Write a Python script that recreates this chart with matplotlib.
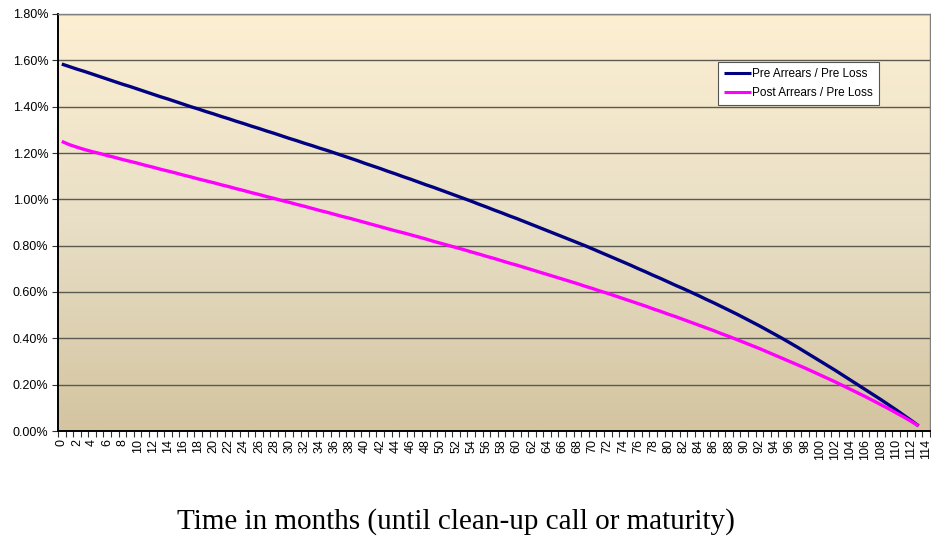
import numpy as np
import matplotlib
matplotlib.use("Agg")
import matplotlib.pyplot as plt
from matplotlib.ticker import FixedLocator, FuncFormatter
from matplotlib.colors import LinearSegmentedColormap

months = list(range(0, 114))

pre_arrears = [
    1.584, 1.573, 1.562, 1.552, 1.541, 1.530, 1.519, 1.508, 1.497, 1.487,
    1.476, 1.465, 1.454, 1.443, 1.433, 1.422, 1.411, 1.400, 1.390, 1.379,
    1.369, 1.358, 1.348, 1.337, 1.327, 1.316, 1.306, 1.295, 1.285, 1.274,
    1.263, 1.253, 1.242, 1.232, 1.221, 1.211, 1.200, 1.189, 1.178, 1.167,
    1.155, 1.144, 1.133, 1.121, 1.110, 1.098, 1.087, 1.075, 1.063, 1.052,
    1.040, 1.028, 1.016, 1.004, 0.992, 0.979, 0.967, 0.954, 0.942, 0.929,
    0.917, 0.904, 0.891, 0.878, 0.865, 0.852, 0.839, 0.826, 0.813, 0.800,
    0.786, 0.772, 0.758, 0.744, 0.730, 0.716, 0.701, 0.687, 0.672, 0.658,
    0.643, 0.628, 0.614, 0.599, 0.584, 0.568, 0.553, 0.537, 0.521, 0.505,
    0.488, 0.471, 0.454, 0.436, 0.418, 0.400, 0.381, 0.362, 0.342, 0.322,
    0.302, 0.282, 0.262, 0.241, 0.220, 0.199, 0.178, 0.157, 0.136, 0.114,
    0.092, 0.069, 0.046, 0.022,
]

post_arrears = [
    1.250, 1.236, 1.225, 1.215, 1.206, 1.198, 1.189, 1.181, 1.172, 1.164,
    1.156, 1.147, 1.139, 1.130, 1.122, 1.114, 1.105, 1.097, 1.088, 1.080,
    1.072, 1.063, 1.055, 1.046, 1.038, 1.029, 1.021, 1.012, 1.004, 0.995,
    0.987, 0.978, 0.970, 0.961, 0.952, 0.944, 0.935, 0.926, 0.918, 0.909,
    0.900, 0.891, 0.882, 0.873, 0.864, 0.856, 0.847, 0.838, 0.829, 0.819,
    0.810, 0.801, 0.792, 0.783, 0.773, 0.764, 0.754, 0.745, 0.735, 0.725,
    0.716, 0.706, 0.696, 0.686, 0.676, 0.666, 0.656, 0.646, 0.636, 0.625,
    0.615, 0.604, 0.594, 0.583, 0.572, 0.561, 0.550, 0.539, 0.527, 0.516,
    0.504, 0.493, 0.481, 0.469, 0.457, 0.445, 0.433, 0.420, 0.408, 0.395,
    0.382, 0.369, 0.356, 0.342, 0.328, 0.314, 0.300, 0.286, 0.272, 0.257,
    0.242, 0.227, 0.212, 0.196, 0.180, 0.164, 0.148, 0.131, 0.114, 0.097,
    0.079, 0.061, 0.042, 0.022,
]

x_tick_labels = [str(v) for v in range(0, 115, 2)]
y_ticks = [0.0, 0.2, 0.4, 0.6, 0.8, 1.0, 1.2, 1.4, 1.6, 1.8]

W, H = 931, 552
fig = plt.figure(figsize=(W / 100, H / 100), dpi=100)
fig.patch.set_facecolor("white")
ax = fig.add_axes([58 / W, (H - 431) / H, (930 - 58) / W, (431 - 14) / H])

# gradient background
cmap = LinearSegmentedColormap.from_list("bg", ["#D4C4A0", "#E8DFC6", "#FDEFD2"])
grad = np.linspace(0, 1, 256).reshape(-1, 1)
ax.imshow(grad, aspect="auto", cmap=cmap, extent=[0, 1, 0, 1],
          transform=ax.transAxes, origin="lower", zorder=0)

ax.set_xlim(-0.5, 114.5)
ax.set_ylim(0, 1.8)

for yv in y_ticks[1:]:
    ax.axhline(yv, color="#5a5a50", lw=1.0, zorder=1)

ax.plot(months, pre_arrears, color="#000080", lw=2.4, zorder=3,
        label="Pre Arrears / Pre Loss", solid_capstyle="butt")
ax.plot(months, post_arrears, color="#FF00FF", lw=2.4, zorder=3,
        label="Post Arrears / Pre Loss", solid_capstyle="butt")

ax.yaxis.set_major_locator(FixedLocator(y_ticks))
ax.yaxis.set_major_formatter(FuncFormatter(lambda v, p: f"{v:.2f}%"))
ax.xaxis.set_major_locator(FixedLocator(list(range(0, 115, 2))))
ax.set_xticklabels(x_tick_labels, rotation=90)
ax.xaxis.set_minor_locator(FixedLocator([i - 0.5 for i in range(0, 116)]))
ax.tick_params(axis="x", which="major", length=0, pad=6,
               labelsize=9, labelfontfamily="Liberation Sans")
ax.tick_params(axis="x", which="minor", length=4, width=0.8, color="#333333")
ax.tick_params(axis="y", which="major", length=4, width=0.8, color="#333333",
               labelsize=9, labelfontfamily="Liberation Sans", pad=3)

for s in ["top", "right"]:
    ax.spines[s].set_color("#808080")
    ax.spines[s].set_linewidth(1.0)
for s in ["left", "bottom"]:
    ax.spines[s].set_color("black")
    ax.spines[s].set_linewidth(1.4)

leg = ax.legend(loc="upper left", bbox_to_anchor=((718 - 58) / 872, (431 - 62) / 417),
                borderaxespad=0.0,
                frameon=True, fancybox=False, edgecolor="#555555",
                facecolor="white", framealpha=1.0, handlelength=2.3,
                handletextpad=0.1, borderpad=0.5, labelspacing=0.6,
                prop={"family": "Liberation Sans", "size": 8.5})
leg.get_frame().set_linewidth(0.8)
for line in leg.get_lines():
    line.set_linewidth(2.2)

fig.text(456 / W, 1 - 522 / H, "Time in months (until clean-up call or maturity)",
         ha="center", va="center", fontsize=21, family="Liberation Serif")

fig.savefig("out.png", dpi=100)
